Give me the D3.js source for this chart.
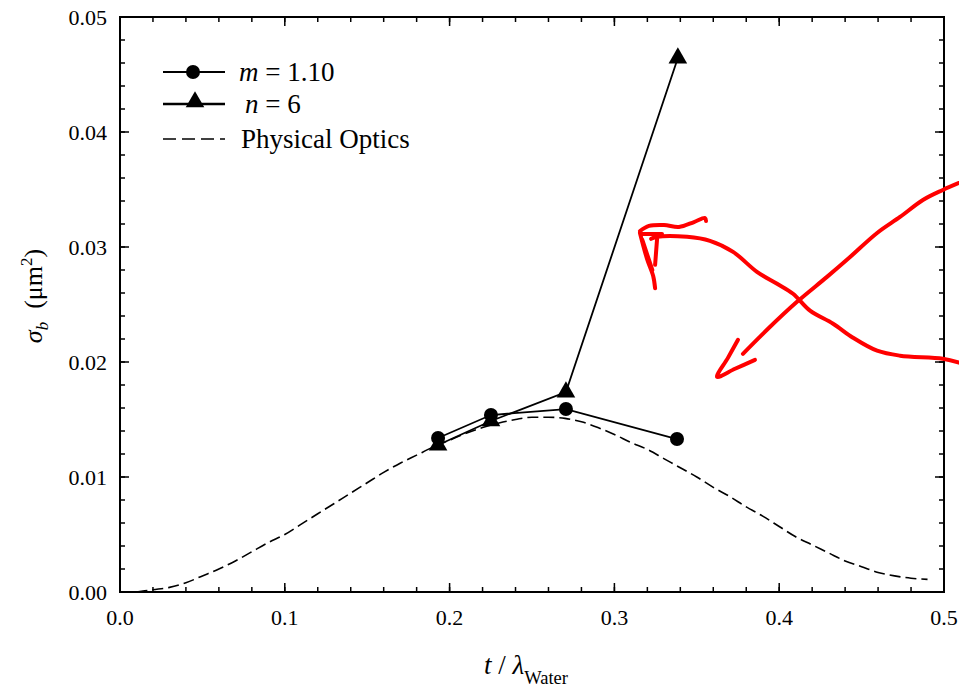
<!DOCTYPE html>
<html><head><meta charset="utf-8">
<script src="https://cdn.jsdelivr.net/npm/d3@7"></script>
<style>
body{margin:0;background:#fff;}
</style></head>
<body><svg id="c" width="959" height="689"></svg>
<script>
// ---- data ----
const mX = [0.193, 0.2251, 0.2706, 0.338];
const mY = [0.01339, 0.01539, 0.01591, 0.0133];
const nX = [0.193, 0.2251, 0.2706, 0.3385];
const nY = [0.01278, 0.01487, 0.01739, 0.04643];
const poX = [0.01,0.02,0.03,0.04,0.05,0.06,0.07,0.08,0.09,0.10,0.11,0.12,0.13,0.14,0.15,0.16,0.17,0.18,0.19,0.20,0.21,0.22,0.23,0.24,0.25,0.26,0.27,0.28,0.29,0.30,0.31,0.32,0.33,0.34,0.35,0.36,0.37,0.38,0.39,0.40,0.41,0.42,0.43,0.44,0.45,0.46,0.47,0.48,0.49];
const poY = [0.0000,0.0002,0.0004,0.0008,0.0014,0.0020,0.0027,0.0035,0.0043,0.0050,0.0059,0.0068,0.0077,0.0086,0.0095,0.0104,0.0112,0.0119,0.0126,0.0132,0.0138,0.0143,0.0147,0.0150,0.0152,0.0152,0.0151,0.0148,0.0143,0.0137,0.0130,0.0124,0.0116,0.0108,0.0100,0.0091,0.0083,0.0074,0.0066,0.0057,0.0048,0.0041,0.0034,0.0027,0.0022,0.0017,0.0014,0.0012,0.0011];
const xTicks = [0.0,0.1,0.2,0.3,0.4,0.5];
const yTicks = [0.00,0.01,0.02,0.03,0.04,0.05];
const legendLabels = ["m = 1.10","n = 6","Physical Optics"];

// hand-drawn red annotation strokes, in data units [t, sigma]
const annoStrokes = [
  [[0.5091,0.01994],[0.4993,0.02029],[0.4733,0.02055],[0.4594,0.02098],[0.4448,0.02211],[0.4327,0.02333],[0.4187,0.02446],[0.4084,0.02593],[0.3987,0.02680],[0.3865,0.02784],[0.3720,0.02958],[0.3580,0.03054],[0.3441,0.03089],[0.3259,0.03089],[0.3223,0.03071]],
  [[0.3155,0.03122],[0.3198,0.02897],[0.3235,0.02749],[0.3247,0.02641]],
  [[0.3259,0.03071],[0.3247,0.02845]],
  [[0.3170,0.03060],[0.3230,0.02800]],
  [[0.3155,0.03139],[0.3210,0.03183],[0.3301,0.03191],[0.3392,0.03174],[0.3483,0.03217],[0.3550,0.03252],[0.3556,0.03226]],
  [[0.3167,0.03113],[0.3289,0.03113]],
  [[0.5091,0.03557],[0.4993,0.03496],[0.4872,0.03409],[0.4733,0.03261],[0.4594,0.03122],[0.4430,0.02913],[0.4290,0.02740],[0.4108,0.02523],[0.3926,0.02280],[0.3780,0.02071]],
  [[0.3750,0.02193],[0.3689,0.02036],[0.3623,0.01871],[0.3732,0.01941],[0.3853,0.02019]]
];

// ---- layout ----
const FONT = "Liberation Serif";
const L=120, T=17, R=944, B=592;
const svg = d3.select("#c");
const x = d3.scaleLinear().domain([0,0.5]).range([L,R]);
const y = d3.scaleLinear().domain([0,0.05]).range([B,T]);

// ticks (inward, on all four sides)
const xMinor = d3.range(0,0.5001,0.02);
const yMinor = d3.range(0,0.05001,0.002);
const g = svg.append("g");
function ticks(scale, vals, len, orient){
  vals.forEach(v=>{
    const p = scale(v);
    if(orient==="x"){
      g.append("line").attr("x1",p).attr("x2",p).attr("y1",B).attr("y2",B-len).attr("stroke","#000").attr("stroke-width",1.5);
      g.append("line").attr("x1",p).attr("x2",p).attr("y1",T).attr("y2",T+len).attr("stroke","#000").attr("stroke-width",1.5);
    } else {
      g.append("line").attr("y1",p).attr("y2",p).attr("x1",L).attr("x2",L+len).attr("stroke","#000").attr("stroke-width",1.5);
      g.append("line").attr("y1",p).attr("y2",p).attr("x1",R).attr("x2",R-len).attr("stroke","#000").attr("stroke-width",1.5);
    }
  });
}
ticks(x, xMinor, 5, "x");
ticks(x, xTicks, 9, "x");
ticks(y, yMinor, 5, "y");
ticks(y, yTicks, 9, "y");

// frame
svg.append("rect").attr("x",L).attr("y",T).attr("width",R-L).attr("height",B-T)
  .attr("fill","none").attr("stroke","#000").attr("stroke-width",2);

// tick labels
svg.append("g").selectAll("text").data(xTicks).join("text")
  .attr("x",d=>x(d)).attr("y",625).attr("text-anchor","middle").attr("font-size",22)
  .text(d=>d3.format(".1f")(d));
svg.append("g").selectAll("text").data(yTicks).join("text")
  .attr("x",107).attr("y",d=>y(d)).attr("dy","0.35em").attr("text-anchor","end").attr("font-size",22)
  .text(d=>d3.format(".2f")(d));

// physical optics dashed curve
const line = d3.line().x(d=>x(d[0])).y(d=>y(d[1]));
const po = poX.map((v,i)=>[v,poY[i]]);
svg.append("path").attr("d", d3.line().x(d=>x(d[0])).y(d=>y(d[1])).curve(d3.curveMonotoneX)(po))
  .attr("fill","none").attr("stroke","#000").attr("stroke-width",1.6).attr("stroke-dasharray","11,5");

// series lines
const mData = mX.map((v,i)=>[v,mY[i]]);
const nData = nX.map((v,i)=>[v,nY[i]]);
svg.append("path").attr("d",line(mData)).attr("fill","none").attr("stroke","#000").attr("stroke-width",1.8);
svg.append("path").attr("d",line(nData)).attr("fill","none").attr("stroke","#000").attr("stroke-width",1.8);

const tri = d3.symbol().type(d3.symbolTriangle).size(150);
svg.append("g").selectAll("path").data(nData).join("path")
  .attr("d",tri).attr("transform",d=>`translate(${x(d[0])},${y(d[1])})`).attr("fill","#000");
svg.append("g").selectAll("circle").data(mData).join("circle")
  .attr("cx",d=>x(d[0])).attr("cy",d=>y(d[1])).attr("r",7).attr("fill","#000");

// legend
const lg = svg.append("g");
const ly = [72,104,139];
lg.append("line").attr("x1",163).attr("x2",225).attr("y1",ly[0]).attr("y2",ly[0]).attr("stroke","#000").attr("stroke-width",1.8);
lg.append("circle").attr("cx",193).attr("cy",ly[0]).attr("r",7).attr("fill","#000");
lg.append("line").attr("x1",163).attr("x2",225).attr("y1",ly[1]).attr("y2",ly[1]).attr("stroke","#000").attr("stroke-width",2.4);
lg.append("path").attr("d",tri).attr("transform",`translate(195,${ly[1]-2})`).attr("fill","#000");
lg.append("line").attr("x1",163).attr("x2",225).attr("y1",ly[2]).attr("y2",ly[2]).attr("stroke","#000").attr("stroke-width",1.6).attr("stroke-dasharray","13,6");

const t1 = lg.append("text").attr("x",239).attr("y",ly[0]+9).attr("font-size",27);
t1.append("tspan").attr("font-style","italic").text("m");
t1.append("tspan").text(" = 1.10");
const t2 = lg.append("text").attr("x",245).attr("y",ly[1]+9).attr("font-size",27);
t2.append("tspan").attr("font-style","italic").text("n");
t2.append("tspan").text(" = 6");
lg.append("text").attr("x",241).attr("y",ly[2]+9).attr("font-size",27).text(legendLabels[2]);

// x axis title
const xt = svg.append("text").attr("x",484).attr("y",674).attr("font-size",27);
xt.append("tspan").attr("font-style","italic").text("t");
xt.append("tspan").text(" / ");
xt.append("tspan").attr("font-style","italic").text("λ");
xt.append("tspan").attr("font-size",18.5).attr("dy",10).text("Water");

// y axis title
const yt = svg.append("text").attr("transform","translate(42,296) rotate(-90)").attr("text-anchor","middle").attr("font-size",26);
yt.append("tspan").attr("font-style","italic").text("σ");
yt.append("tspan").attr("font-style","italic").attr("font-size",17).attr("dy",6).text("b");
yt.append("tspan").attr("dy",-6).text("\u00a0\u00a0(μm");
yt.append("tspan").attr("font-size",17).attr("dy",-10).text("2");
yt.append("tspan").attr("dy",10).text(")");

// red annotations
const aLine = d3.line().x(d=>x(d[0])).y(d=>y(d[1])).curve(d3.curveCatmullRom);
svg.append("g").selectAll("path").data(annoStrokes).join("path")
  .attr("d",aLine).attr("fill","none").attr("stroke","#ff0000").attr("stroke-width",4)
  .attr("stroke-linecap","round").attr("stroke-linejoin","round");

svg.selectAll("text, tspan").attr("font-family",FONT).style("font-family",FONT).style("fill","#000");
</script></body></html>
